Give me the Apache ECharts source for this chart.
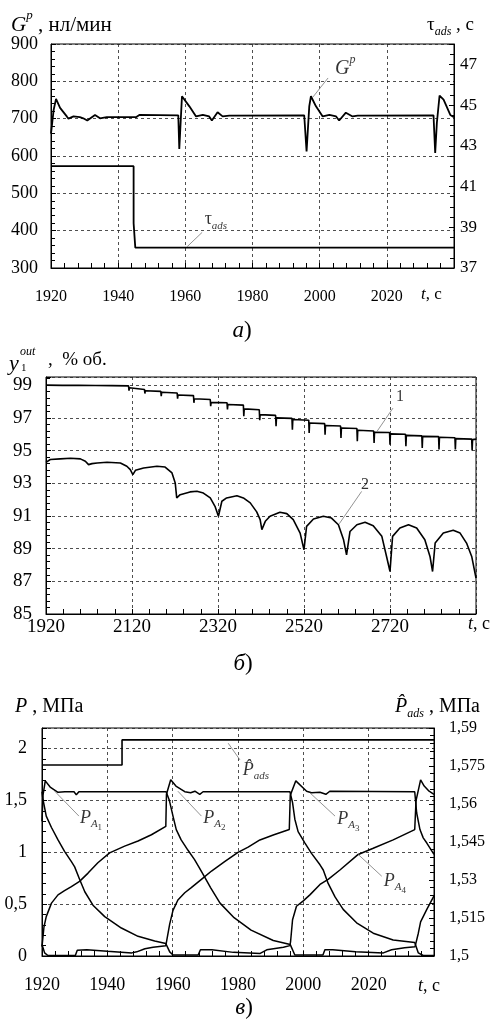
<!DOCTYPE html>
<html><head><meta charset="utf-8">
<script src="https://cdn.jsdelivr.net/npm/echarts@6/dist/echarts.min.js"></script>
<style>html,body{margin:0;padding:0;background:#fff;}#c{width:491px;height:1026px;}</style>
</head><body><div id="c"></div>
<script>
// ---------- Panel a: G^p (left axis) and tau_ads (right axis) ----------
const gpData = [[1920,660],[1920.3,661],[1920.8,724],[1921.5,753],[1922.7,729],[1924.7,706],[1925.2,700],[1926.7,706],[1928.6,704],[1929.6,701],[1930.8,695],[1933.1,710],[1934.6,701],[1936.6,704],[1945.3,704],[1946.3,710],[1957.9,709],[1958.2,619],[1959.0,760],[1959.4,758],[1961.2,733],[1963.2,706],[1965.2,710],[1967.1,706],[1967.9,695],[1969.6,717],[1971.1,706],[1973.1,708],[1995.4,709],[1996.1,612],[1996.9,733],[1997.4,760],[1998.9,733],[2000.9,706],[2002.9,710],[2004.9,706],[2005.8,695],[2007.8,716],[2009.8,706],[2011.3,708],[2033.9,709],[2034.4,608],[2034.9,689],[2035.7,762],[2036.9,751],[2038.9,710],[2040,704]];
const tauData = [[1920,42],[1944.6,42],[1944.6,39.2],[1945.1,39.2],[1945.1,38],[2040,38]];

// ---------- Panel b: y1_out, curves 1 and 2 ----------
const y1Curve1 = [[1920,99.0],
[1958,98.99],[1959,98.93],[1960,99.0],[1996,98.99],[1997,98.92],[1998,98.99],
[2035,98.98],[2036,98.9],[2037,98.98],[2073,98.97],[2074,98.88],[2075,98.97],
[2112,98.96],[2113,98.66],[2114,98.84],[2149,98.74],[2150,98.49],[2151,98.66],
[2187,98.62],[2188,98.33],[2189,98.57],[2225,98.52],[2226,98.17],[2227,98.40],
[2263,98.36],[2264,97.92],[2265,98.17],[2302,98.12],[2303,97.71],[2304,97.95],
[2341,97.92],[2342,97.51],[2343,97.82],[2379,97.78],[2380,97.10],[2381,97.55],
[2416,97.50],[2417,96.85],[2418,97.20],[2454,97.15],[2455,96.49],[2456,97.00],
[2492,96.97],[2493,96.28],[2494,96.90],[2531,96.85],[2532,96.08],[2533,96.69],
[2568,96.65],[2569,95.97],[2570,96.53],[2605,96.50],[2606,95.77],[2607,96.38],
[2643,96.35],[2644,95.57],[2645,96.24],[2682,96.20],[2683,95.46],[2684,96.12],
[2719,96.10],[2720,95.36],[2721,96.02],[2756,96.00],[2757,95.26],[2758,95.93],
[2794,95.90],[2795,95.16],[2796,95.87],[2833,95.85],[2834,95.06],[2835,95.81],
[2871,95.78],[2872,95.06],[2873,95.73],[2910,95.70],[2911,95.01],[2912,95.67],[2920,95.70]];
const y1Curve2 = [[1920,94.28],[1930,94.45],[1953,94.49],[1977,94.53],[2000,94.49],[2011.5,94.35],[2019,94.14],[2027,94.2],[2039,94.24],[2062,94.28],[2093,94.24],[2108,94.04],[2116,93.83],[2122,93.53],[2128,93.79],[2147,93.93],[2178,94.04],[2197,93.99],[2213,93.63],[2220.5,93.02],[2224,92.1],[2232,92.3],[2255,92.47],[2271,92.51],[2286,92.4],[2302,92.1],[2313,91.59],[2321,90.98],[2329,91.9],[2340,92.1],[2364,92.24],[2379,92.1],[2395,91.8],[2410,91.25],[2418,90.77],[2422,90.16],[2430,90.67],[2441,90.98],[2464,91.22],[2480,91.14],[2495,90.77],[2511,89.95],[2520,88.93],[2526,90.36],[2542,90.81],[2565,90.98],[2584,90.87],[2600,90.46],[2612,89.54],[2619,88.62],[2627,90.05],[2643,90.46],[2662,90.61],[2681,90.4],[2701,89.75],[2712,88.52],[2720,87.6],[2726,89.75],[2743,90.26],[2763,90.46],[2782,90.26],[2801,89.54],[2813,88.52],[2819,87.6],[2825,89.34],[2844,89.95],[2867,90.12],[2883,89.95],[2898,89.34],[2910,88.52],[2920,87.2]];

// ---------- Panel c: pressures in adsorbers and P_ads ----------
const pA1 = [[1920,1.30],[1920.3,1.55],[1921.0,1.69],[1922.5,1.63],[1924.9,1.58],[1927,1.585],[1929.8,1.585],[1930.5,1.555],[1931.3,1.585],[1958.0,1.585],
[1958.3,1.58],[1959.0,1.50],[1960.1,1.35],[1961.1,1.22],[1962.6,1.12],[1964.7,1.02],[1966.7,0.93],[1968.0,0.86],[1969.8,0.76],[1971.6,0.66],[1974.5,0.51],[1978.8,0.37],[1984,0.25],[1990.8,0.15],[1996.0,0.11],
[1997.4,0.01],[2006.0,0.01],[2006.6,0.06],[2009,0.06],[2016,0.04],[2024.5,0.03],[2027,0.06],[2031,0.08],[2034.2,0.09],
[2034.7,0.10],[2035.2,0.22],[2035.9,0.33],[2037.8,0.45],[2040,0.58]];
const pA2 = [[1920,0.09],[1920.6,0.28],[1921.3,0.38],[1922.9,0.51],[1924.9,0.59],[1926.9,0.63],[1929,0.67],[1931.5,0.72],[1934.1,0.80],[1937.1,0.90],[1940.7,0.995],[1945.3,1.06],[1949.4,1.11],[1953.5,1.17],[1957.9,1.25],
[1958.1,1.56],[1959.4,1.70],[1961,1.64],[1963.7,1.585],[1965.5,1.575],[1966.8,1.59],[1968.3,1.56],[1969.3,1.585],[1995.9,1.585],
[1996.7,1.48],[1997.4,1.32],[1998.4,1.20],[2000.5,1.09],[2002.5,0.99],[2005.1,0.88],[2006.1,0.83],[2007.6,0.70],[2009.7,0.57],[2012.2,0.45],[2016.3,0.32],[2021.4,0.22],[2027.5,0.155],[2034.1,0.13],
[2035.2,0.03],[2036.7,0.005],[2040,0.005]];
const pA3 = [[1920,0.11],[1920.8,0.03],[1921.8,0.005],[1930.2,0.005],[1930.8,0.055],[1933.7,0.06],[1940,0.045],[1947.5,0.03],[1949,0.04],[1951.5,0.07],[1954,0.085],[1957.9,0.10],
[1958.1,0.09],[1959.1,0.31],[1960.1,0.44],[1961.6,0.54],[1963.7,0.61],[1965.7,0.66],[1968.8,0.74],[1971.9,0.82],[1975.9,0.91],[1980,1.0],[1983.1,1.05],[1986.7,1.12],[1991,1.17],[1995.7,1.22],
[1996.0,1.55],[1997.7,1.69],[2001.0,1.59],[2002.5,1.575],[2005.1,1.58],[2006.9,1.56],[2008.1,1.59],[2034.1,1.585],
[2034.7,1.38],[2035.7,1.22],[2036.7,1.14],[2037.8,1.09],[2039.8,0.99],[2040,0.98]];
const pA4 = [[1920,1.585],[1920.3,1.51],[1921.3,1.35],[1922.9,1.24],[1924.9,1.12],[1926.9,1.01],[1929.0,0.91],[1930.0,0.86],[1931.5,0.74],[1933.1,0.62],[1935.6,0.49],[1939.2,0.38],[1944.3,0.27],[1949.4,0.19],[1954.5,0.145],[1957.9,0.12],
[1959.1,0.04],[1960.1,0.01],[1967.8,0.01],[1968.5,0.06],[1972,0.06],[1978.6,0.035],[1986.8,0.025],[1988.8,0.06],[1993.9,0.085],[1995.9,0.10],
[1996.1,0.14],[1996.7,0.35],[1997.9,0.48],[1999.9,0.53],[2002,0.59],[2005.1,0.69],[2007.6,0.74],[2011.2,0.83],[2016.8,0.98],[2021.4,1.04],[2027.5,1.12],[2034.1,1.22],
[2034.5,1.50],[2035.9,1.70],[2037,1.64],[2038.5,1.59],[2040,1.56]];
const pAds = [[1920,1.5754],[1944.5,1.5754],[1944.5,1.5853],[2040,1.5853]];

// tick label sets
const xTicksA = [1920,1940,1960,1980,2000,2020];
const xTicksB = [1920,2120,2320,2520,2720];
const yTicksB = [85,87,89,91,93,95,97,99];

const FF = "'Liberation Serif','Times New Roman',serif";
const BLACK = '#000';
function R(s){
  return {
    i:{fontFamily:FF,fontStyle:'italic',fontSize:s,color:BLACK,lineHeight:Math.round(s*1.5)},
    n:{fontFamily:FF,fontSize:s,color:BLACK,lineHeight:Math.round(s*1.5)},
    sup:{fontFamily:FF,fontStyle:'italic',fontSize:Math.round(s*0.62),color:BLACK,verticalAlign:'top',lineHeight:Math.round(s*0.62)},
    sub:{fontFamily:FF,fontStyle:'italic',fontSize:Math.round(s*0.62),color:BLACK,verticalAlign:'bottom',lineHeight:Math.round(s*0.62),padding:[0,0,2,0]},
    ss:{fontFamily:FF,fontSize:Math.round(s*0.48),color:BLACK,verticalAlign:'bottom',lineHeight:Math.round(s*0.48)}
  };
}
const dash = {color:'#222',width:0.8,type:[3,3]};

function xAx(gi,min,max,interval,fs,margin,ticks){
  return {type:'value',gridIndex:gi,min,max,interval,
    axisLine:{show:true,onZero:false,lineStyle:{color:BLACK,width:1}},
    axisTick:{show:true,inside:true,length:5,lineStyle:{color:BLACK,width:1}},
    minorTick:{show:true,splitNumber:5,length:5,lineStyle:{color:BLACK,width:1}},
    splitLine:{show:true,lineStyle:dash},
    axisLabel:{color:BLACK,fontFamily:FF,fontSize:fs,margin,showMinLabel:true,showMaxLabel:true,
      formatter:v=>ticks.includes(Math.round(v))?String(Math.round(v)):''}};
}
function yAx(gi,pos,min,max,interval,fs,margin,fmt,minorSplit,grid){
  return {type:'value',gridIndex:gi,position:pos,min,max,interval,
    axisLine:{show:true,onZero:false,lineStyle:{color:BLACK,width:1}},
    axisTick:{show:true,inside:true,length:5,lineStyle:{color:BLACK,width:1}},
    minorTick:{show:true,splitNumber:minorSplit,length:4,lineStyle:{color:BLACK,width:1}},
    splitLine:{show:grid,lineStyle:dash},
    axisLabel:{color:BLACK,fontFamily:FF,fontSize:fs,margin,showMinLabel:true,showMaxLabel:true,formatter:fmt}};
}
function line(xi,yi,data,w){
  return {type:'line',xAxisIndex:xi,yAxisIndex:yi,data,symbol:'none',showSymbol:false,clip:true,
    lineStyle:{color:BLACK,width:w},emphasis:{disabled:true},silent:true,z:3};
}
function leader(xi,yi,data){
  return {type:'line',xAxisIndex:xi,yAxisIndex:yi,data,symbol:'none',showSymbol:false,clip:false,
    lineStyle:{color:'#777',width:0.8},emphasis:{disabled:true},silent:true,z:4};
}
function tag(xi,yi,pt,text,size){
  return {type:'scatter',xAxisIndex:xi,yAxisIndex:yi,data:[pt],symbolSize:1,itemStyle:{color:'rgba(0,0,0,0)'},
    label:{show:true,position:'inside',formatter:text,rich:R(size)},emphasis:{disabled:true},silent:true,z:6};
}
const comma = v => (+Number(v).toFixed(3)).toString().replace('.', ',');

function gtext(x,y,text,size,align){
  return {type:'text',x,y,silent:true,style:{text,rich:R(size),fontFamily:FF,fontSize:size,fill:BLACK,
    textAlign:align||'left',align:align||'left',textVerticalAlign:'middle',verticalAlign:'middle'}};
}

const chart = echarts.init(document.getElementById('c'),null,{renderer:'canvas'});
const option = {
  animation:false,
  backgroundColor:'#fff',
  grid:[
    {left:51,right:37,top:44,height:224,show:true,borderColor:BLACK,borderWidth:1,containLabel:false,outerBoundsMode:'none'},
    {left:46,right:15,top:377,height:237,show:true,borderColor:BLACK,borderWidth:1,containLabel:false,outerBoundsMode:'none'},
    {left:42,right:57,top:728,height:228,show:true,borderColor:BLACK,borderWidth:1,containLabel:false,outerBoundsMode:'none'}
  ],
  xAxis:[
    xAx(0,1920,2040,20,16,21,xTicksA),
    xAx(1,1920,2920,200,19,4,xTicksB),
    xAx(2,1920,2040,20,18,20,xTicksA)
  ],
  yAxis:[
    yAx(0,'left',300,900,100,18,13,v=>String(v),5,true),
    yAx(0,'right',37,48,2,17,6,v=>(v>47.5?'':String(v)),4,false),
    yAx(1,'left',85,99.5,2,19,14,v=>(yTicksB.includes(Math.round(v))&&Math.abs(v-Math.round(v))<1e-6?String(v):''),5,true),
    yAx(2,'left',0,2.2,0.5,18,15,v=>(v>2.05?'':comma(v)),5,true),
    yAx(2,'right',1.5,1.59,0.015,16,15,v=>comma(v),5,false)
  ],
  series:[
    line(0,0,gpData,1.8),
    line(0,1,tauData,1.8),
    leader(0,0,[[1998.0,758],[2002.5,809]]),
    tag(0,0,[2007.6,833],'{i|G}{sup|p}',20),
    leader(0,1,[[1960.5,38.04],[1965,38.75]]),
    tag(0,1,[1969.1,39.37],'{n|τ}{sub|ads}',18),

    line(1,2,y1Curve1,1.6),
    line(1,2,y1Curve2,1.6),
    leader(1,2,[[2690,96.18],[2727,97.6]]),
    tag(1,2,[2743,98.31],'{n|1}',16),
    leader(1,2,[[2602,90.52],[2654,92.5]]),
    tag(1,2,[2662,92.91],'{n|2}',16),

    line(2,3,pA1,1.5),
    line(2,3,pA2,1.5),
    line(2,3,pA3,1.5),
    line(2,3,pA4,1.5),
    line(2,4,pAds,1.6),
    leader(2,3,[[1923.9,1.59],[1931.3,1.35]]),
    tag(2,3,[1935,1.33],'{i|P}{sub|A}{ss|1}',18),
    leader(2,3,[[1961.6,1.59],[1968.8,1.35]]),
    tag(2,3,[1972.8,1.33],'{i|P}{sub|A}{ss|2}',18),
    leader(2,3,[[2002.0,1.575],[2009.7,1.35]]),
    tag(2,3,[2013.8,1.32],'{i|P}{sub|A}{ss|3}',18),
    leader(2,3,[[2016.8,0.98],[2024.0,0.77]]),
    tag(2,3,[2028.0,0.72],'{i|P}{sub|A}{ss|4}',18),
    leader(2,4,[[1977.0,1.584],[1980.6,1.5774]]),
    tag(2,4,[1985.5,1.5734],'{i|P\u0302}{sub|ads}',18)
  ],
  graphic:[
    gtext(11,25,'{i|G}{sup|p}{n| , нл/мин}',21),
    gtext(474,25,'{n|τ}{sub|ads}{n| , с}',19,'right'),
    gtext(421,295,'{i|t}{n|, с}',17),
    gtext(242,331,'{i|а}{n|)}',23,'center'),

    gtext(9,364,'{i|y}',22),
    gtext(20,352,'{i|out}',12),
    gtext(21,368,'{n|1}',11),
    gtext(48,360,'{n|,  % об.}',19),
    gtext(468,624,'{i|t}{n|, с}',18),
    gtext(243,664,'{i|б}{n|)}',23,'center'),

    gtext(15,707,'{i|P}{n| , МПа}',20),
    gtext(480,707,'{i|P\u0302}{sub|ads}{n| , МПа}',20,'right'),
    gtext(418,986,'{i|t}{n|, с}',18),
    gtext(244,1008,'{i|в}{n|)}',23,'center')
  ]
};
chart.setOption(option);
</script></body></html>
